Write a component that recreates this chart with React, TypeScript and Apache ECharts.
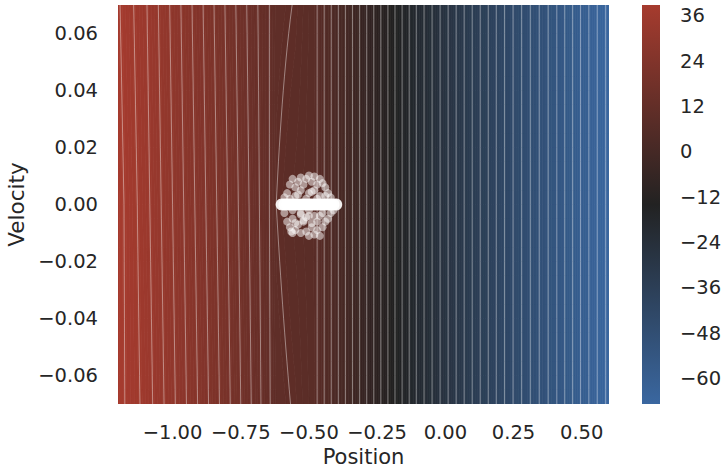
import React, { useEffect, useRef } from "react";
import * as echarts from "echarts";

// Value-function profile (value vs position) read at three velocities
const positions = [-1.2, -1.1, -1.0, -0.9, -0.8, -0.7, -0.645, -0.62, -0.55, -0.47, -0.4, -0.3, -0.2, -0.1, 0.0, 0.1, 0.2, 0.3, 0.4, 0.5, 0.6];
const rowVelocities = [0.07, 0, -0.07];
const valuesTop = [38.3, 34.3, 29.5, 24.6, 19.6, 14.6, 12.0, 10.5, 9.9, 8.0, 2.6, -5.1, -12.8, -20.5, -27.3, -34.1, -40.9, -47.3, -53.4, -60.3, -66.8];
const valuesMid = [38.9, 34.8, 30.0, 25.1, 20.1, 15.0, 12.0, 10.0, 9.0, 8.0, 2.6, -5.1, -12.8, -20.5, -27.3, -34.1, -40.9, -47.3, -53.4, -60.3, -66.8];
const valuesBottom = [38.9, 35.3, 30.5, 25.6, 20.6, 15.4, 12.2, 10.6, 9.8, 8.0, 2.6, -5.1, -12.8, -20.5, -27.3, -34.1, -40.9, -47.3, -53.4, -60.3, -66.8];
const rows = [valuesTop, valuesMid, valuesBottom];

// Colour bar range and ticks
const cbMin = -66.8;
const cbMax = 38.9;
const cbTicks = [-60, -48, -36, -24, -12, 0, 12, 24, 36];

// Axis tick labels
const xTicks = [-1.0, -0.75, -0.5, -0.25, 0.0, 0.25, 0.5];
const yTicks = [-0.06, -0.04, -0.02, 0.0, 0.02, 0.04, 0.06];

// Start states (velocity 0) and nearby visited states
const startPos = [-0.6, -0.59, -0.58, -0.57, -0.56, -0.55, -0.54, -0.53, -0.52, -0.51, -0.5, -0.49, -0.48, -0.47, -0.46, -0.45, -0.44, -0.43, -0.42, -0.41, -0.4];
const startVel = [0, 0, 0, 0, 0, 0, 0, 0, 0, 0, 0, 0, 0, 0, 0, 0, 0, 0, 0, 0, 0];
const cloudPos = [-0.58, -0.57, -0.56, -0.55, -0.54, -0.53, -0.52, -0.51, -0.5, -0.49, -0.48, -0.47, -0.46, -0.45, -0.44, -0.43, -0.55, -0.5, -0.46, -0.53, -0.48, -0.59, -0.42,
  -0.59, -0.58, -0.57, -0.56, -0.55, -0.54, -0.53, -0.52, -0.51, -0.5, -0.49, -0.48, -0.47, -0.46, -0.45, -0.44, -0.43, -0.42, -0.41, -0.56, -0.5, -0.46, -0.53, -0.565,
  -0.57, -0.54, -0.51, -0.49, -0.47, -0.44, -0.56, -0.53, -0.5, -0.48, -0.45, -0.52, -0.49, -0.55, -0.47, -0.51];
const cloudVel = [0.004, 0.007, 0.009, 0.006, 0.008, 0.0095, 0.007, 0.009, 0.0102, 0.008, 0.0098, 0.007, 0.009, 0.0075, 0.006, 0.004, 0.003, 0.004, 0.003, 0.005, 0.005, 0.0025, 0.0025,
  -0.003, -0.006, -0.008, -0.005, -0.009, -0.007, -0.01, -0.006, -0.0095, -0.011, -0.008, -0.0105, -0.009, -0.011, -0.008, -0.006, -0.005, -0.003, -0.002, -0.01, -0.004, -0.004, -0.003, -0.0095,
  0.002, 0.0035, 0.002, 0.0045, 0.002, 0.003, -0.002, -0.0035, -0.002, -0.004, -0.003, -0.0055, -0.0065, -0.0065, -0.006, -0.0045];

const FONT = "DejaVu Sans";
const TEXT = "#262626";
const cBlue = [58, 103, 160];
const cDark = [34, 34, 34];
const cRed = [166, 59, 46];

function cmap(v: number) {
  let t = (v - cbMin) / (cbMax - cbMin);
  t = Math.max(0, Math.min(1, t));
  let a, b, f;
  if (t < 0.5) { a = cBlue; b = cDark; f = t * 2; } else { a = cDark; b = cRed; f = (t - 0.5) * 2; }
  const c = a.map((x, i) => Math.round(x + (b[i] - x) * f));
  return `rgb(${c[0]},${c[1]},${c[2]})`;
}

function rowAt(v: number) {
  for (let k = 0; k < rowVelocities.length - 1; k++) {
    const v0 = rowVelocities[k], v1 = rowVelocities[k + 1];
    if (v <= v0 && v >= v1) {
      const w = (v0 - v) / (v0 - v1);
      return rows[k].map((x, i) => x + (rows[k + 1][i] - x) * w);
    }
  }
  return v > rowVelocities[0] ? rows[0] : rows[rows.length - 1];
}

function crossAt(L: number, v: number) {
  const r = rowAt(v);
  const n = r.length;
  if (L >= r[0]) return positions[0];
  if (L <= r[n - 1]) return positions[n - 1];
  for (let i = 0; i < n - 1; i++) {
    if (r[i] >= L && L >= r[i + 1]) {
      const f = (r[i] - L) / (r[i] - r[i + 1] || 1);
      return positions[i] + f * (positions[i + 1] - positions[i]);
    }
  }
  return positions[n - 1];
}

// rendering resolution
const velSamples: number[] = [];
for (let k = 0; k <= 28; k++) velSamples.push(0.07 - (0.14 * k) / 28);
const fillLevels: number[] = [];
for (let L = cbMin - 1; L <= cbMax + 1.5; L += 0.5) fillLevels.push(L);
const contourLevels: number[] = [];
for (let L = -66; L <= 38; L += 2) contourLevels.push(L);

const fmt2 = (v: number) => (v < -1e-9 ? "\u2212" : "") + Math.abs(v).toFixed(2);
const fmt0 = (v: number) => (v < 0 ? "\u2212" : "") + Math.abs(v);

export default function App() {
  const ref = useRef<HTMLDivElement>(null);
  useEffect(() => {
    const chart = echarts.init(ref.current!, null, { renderer: "svg" });
    const option: any = {
      animation: false,
      backgroundColor: "#ffffff",
      textStyle: { fontFamily: FONT, color: TEXT },
      grid: [
        { left: 118, top: 5, width: 491, height: 399, containLabel: false, outerBoundsMode: "none" },
        { left: 642, top: 5, width: 18, height: 399, containLabel: false, outerBoundsMode: "none" },
      ],
      xAxis: [
        {
          type: "value", gridIndex: 0, min: -1.2, max: 0.6,
          name: "Position", nameLocation: "middle", nameGap: 36,
          nameTextStyle: { fontSize: 21, color: TEXT, fontFamily: FONT },
          axisLine: { show: false }, axisTick: { show: false }, splitLine: { show: false },
          axisLabel: { customValues: xTicks, formatter: fmt2, fontSize: 19.5, color: TEXT, fontFamily: FONT, margin: 18 },
        },
        { type: "value", gridIndex: 1, min: 0, max: 1, show: false },
      ],
      yAxis: [
        {
          type: "value", gridIndex: 0, min: -0.07, max: 0.07,
          name: "Velocity", nameLocation: "middle", nameGap: 88,
          nameTextStyle: { fontSize: 21.5, color: TEXT, fontFamily: FONT },
          axisLine: { show: false }, axisTick: { show: false }, splitLine: { show: false },
          axisLabel: { customValues: yTicks, formatter: fmt2, fontSize: 19.5, color: TEXT, fontFamily: FONT, margin: 20 },
        },
        {
          type: "value", gridIndex: 1, min: cbMin, max: cbMax, position: "right",
          axisLine: { show: false }, splitLine: { show: false },
          axisTick: { show: true, customValues: cbTicks, length: 10, lineStyle: { color: TEXT, width: 1.5 } },
          axisLabel: { customValues: cbTicks, formatter: fmt0, fontSize: 19.5, color: TEXT, fontFamily: FONT, margin: 20 },
        },
      ],
      series: [
        {
          type: "custom", name: "fill", xAxisIndex: 0, yAxisIndex: 0, clip: true, silent: true,
          data: fillLevels.slice(0, -1).map((L) => [L]),
          renderItem: (params: any, api: any) => {
            const i = params.dataIndex;
            const la = fillLevels[i], lb = fillLevels[i + 1];
            const left = velSamples.map((v) => api.coord([crossAt(lb, v), v]));
            const right = velSamples.slice().reverse().map((v) => api.coord([crossAt(la, v), v]));
            const c = cmap((la + lb) / 2);
            return { type: "polygon", shape: { points: left.concat(right) }, style: { fill: c, stroke: c, lineWidth: 0.8 } };
          },
        },
        {
          type: "custom", name: "contours", xAxisIndex: 0, yAxisIndex: 0, clip: true, silent: true,
          data: contourLevels.map((L) => [L]),
          renderItem: (params: any, api: any) => {
            const L = contourLevels[params.dataIndex];
            const pts = velSamples.map((v) => api.coord([crossAt(L, v), v]));
            return { type: "polyline", shape: { points: pts }, style: { stroke: "rgba(255,255,255,0.42)", lineWidth: 1, fill: null } };
          },
        },
        {
          type: "scatter", name: "visited", xAxisIndex: 0, yAxisIndex: 0, silent: true,
          symbolSize: 8,
          itemStyle: { color: "#ffffff", opacity: 0.5 },
          data: cloudPos.map((p, i) => [p, cloudVel[i]]),
        },
        {
          type: "scatter", name: "start", xAxisIndex: 0, yAxisIndex: 0, silent: true,
          symbolSize: 12,
          itemStyle: { color: "#ffffff", opacity: 0.92 },
          data: startPos.map((p, i) => [p, startVel[i]]),
        },
        {
          type: "custom", name: "colorbar", xAxisIndex: 1, yAxisIndex: 1, silent: true,
          data: [[0]],
          renderItem: (params: any, api: any) => {
            const p1 = api.coord([0, cbMax]);
            const p2 = api.coord([1, cbMin]);
            return {
              type: "rect",
              shape: { x: p1[0], y: p1[1], width: p2[0] - p1[0], height: p2[1] - p1[1] },
              style: {
                fill: new echarts.graphic.LinearGradient(0, 0, 0, 1, [
                  { offset: 0, color: cmap(cbMax) },
                  { offset: 0.5, color: cmap((cbMax + cbMin) / 2) },
                  { offset: 1, color: cmap(cbMin) },
                ]),
              },
            };
          },
        },
      ],
    };
    chart.setOption(option);
    return () => chart.dispose();
  }, []);
  return <div ref={ref} style={{ position: "absolute", left: 0, top: 0, width: 722, height: 468 }} />;
}
